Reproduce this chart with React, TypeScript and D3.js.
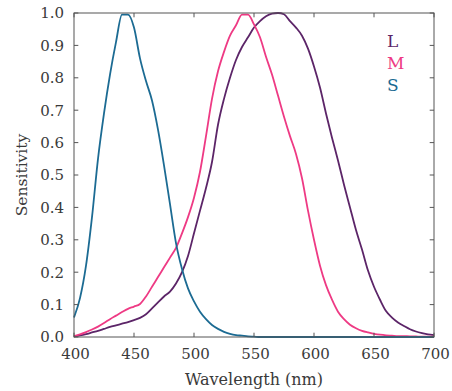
import React from "react";
import * as d3 from "d3";

const wavelengths: number[] = d3.range(400, 701, 5);

const lValues: number[] = [
  0.002, 0.005, 0.009, 0.014, 0.019, 0.025, 0.031, 0.036, 0.041, 0.046,
  0.052, 0.059, 0.07, 0.088, 0.107, 0.125, 0.14, 0.165, 0.2, 0.25,
  0.32, 0.39, 0.46, 0.54, 0.655, 0.735, 0.8, 0.855, 0.895, 0.925,
  0.955, 0.975, 0.99, 0.998, 1.0, 0.996, 0.975, 0.955, 0.93, 0.89,
  0.835, 0.77, 0.69, 0.615, 0.545, 0.47, 0.4, 0.33, 0.27, 0.205,
  0.155, 0.115, 0.08, 0.06, 0.045, 0.034, 0.024, 0.017, 0.012, 0.008,
  0.006,
];

const mValues: number[] = [
  0.003, 0.008, 0.015, 0.023, 0.032, 0.043, 0.055, 0.066, 0.077, 0.087,
  0.094, 0.102, 0.125, 0.155, 0.185, 0.215, 0.245, 0.275, 0.32, 0.37,
  0.43, 0.51, 0.62, 0.735, 0.82, 0.88, 0.93, 0.962, 0.995, 0.995,
  0.965, 0.925, 0.865, 0.81, 0.745, 0.68, 0.62, 0.565, 0.49, 0.39,
  0.3, 0.22, 0.16, 0.115, 0.078, 0.055, 0.038, 0.027, 0.019, 0.014,
  0.01, 0.007, 0.005, 0.004, 0.003, 0.0025, 0.002, 0.0015, 0.001, 0.001,
  0.001,
];

const sValues: number[] = [
  0.06, 0.12, 0.22, 0.37, 0.55, 0.69, 0.81, 0.91, 0.995, 0.995,
  0.955, 0.86, 0.79, 0.73, 0.64, 0.53, 0.41, 0.29, 0.21, 0.15,
  0.11, 0.078, 0.055, 0.037, 0.025, 0.016, 0.01, 0.006, 0.004, 0.002,
  0.001, 0, 0, 0, 0, 0, 0, 0, 0, 0,
  0, 0, 0, 0, 0, 0, 0, 0, 0, 0,
  0, 0, 0, 0, 0, 0, 0, 0, 0, 0,
  0,
];

const seriesNames: string[] = ["L", "M", "S"];
const seriesColors: string[] = ["#5c2568", "#ee3a84", "#1c6b93"];
const xTicks: number[] = [400, 450, 500, 550, 600, 650, 700];
const yTicks: number[] = [0, 0.1, 0.2, 0.3, 0.4, 0.5, 0.6, 0.7, 0.8, 0.9, 1.0];

const W = 452;
const H = 391;
const margin = { left: 74, right: 18, top: 13, bottom: 54 };
const FONT = "'DejaVu Serif', serif";
const TEXT = "#3a3a3a";
const AXIS = "#555";

export default function App() {
  const x = d3.scaleLinear().domain([400, 700]).range([margin.left, W - margin.right]);
  const y = d3.scaleLinear().domain([0, 1]).range([H - margin.bottom, margin.top]);
  const allSeries = [lValues, mValues, sValues];
  const line = d3
    .line<number>()
    .x((_, i) => x(wavelengths[i]))
    .y((d) => y(d))
    .curve(d3.curveMonotoneX);
  const [x0, x1] = x.range();
  const [y0, y1] = y.range();
  const tl = 4.3;
  return (
    <svg
      width={W}
      height={H}
      style={{ position: "absolute", left: 0, top: 0, background: "#fff" }}
    >
      {allSeries.map((vals, si) => (
        <path
          key={seriesNames[si]}
          d={line(vals) || ""}
          fill="none"
          stroke={seriesColors[si]}
          strokeWidth={1.8}
          strokeLinejoin="round"
        />
      ))}
      <rect x={x0} y={y1} width={x1 - x0} height={y0 - y1} fill="none" stroke={AXIS} strokeWidth={1} />
      {xTicks.map((t) => (
        <g key={"x" + t}>
          <line x1={x(t)} x2={x(t)} y1={y0} y2={y0 - tl} stroke={AXIS} />
          <line x1={x(t)} x2={x(t)} y1={y1} y2={y1 + tl} stroke={AXIS} />
          <text
            x={x(t) + 1.5}
            y={y0 + 21.5}
            textAnchor="middle"
            fontFamily={FONT}
            fontSize={15}
            fill={TEXT}
          >
            {t}
          </text>
        </g>
      ))}
      {yTicks.map((t) => (
        <g key={"y" + t}>
          <line x1={x0} x2={x0 + tl} y1={y(t)} y2={y(t)} stroke={AXIS} />
          <line x1={x1} x2={x1 - tl} y1={y(t)} y2={y(t)} stroke={AXIS} />
          <text
            x={x0 - 10}
            y={y(t) + 5.4}
            textAnchor="end"
            fontFamily={FONT}
            fontSize={15}
            fill={TEXT}
          >
            {d3.format(".1f")(t)}
          </text>
        </g>
      ))}
      <text
        x={(x0 + x1) / 2}
        y={385}
        textAnchor="middle"
        fontFamily={FONT}
        fontSize={16}
        fill={TEXT}
      >
        Wavelength (nm)
      </text>
      <text
        transform={`translate(27, ${(y0 + y1) / 2}) rotate(-90)`}
        textAnchor="middle"
        fontFamily={FONT}
        fontSize={15.5}
        fill={TEXT}
      >
        Sensitivity
      </text>
      {seriesNames.map((n, i) => (
        <text
          key={"leg" + n}
          x={387}
          y={46.5 + i * 22.2}
          fontFamily={FONT}
          fontSize={17}
          fill={seriesColors[i]}
        >
          {n}
        </text>
      ))}
    </svg>
  );
}
